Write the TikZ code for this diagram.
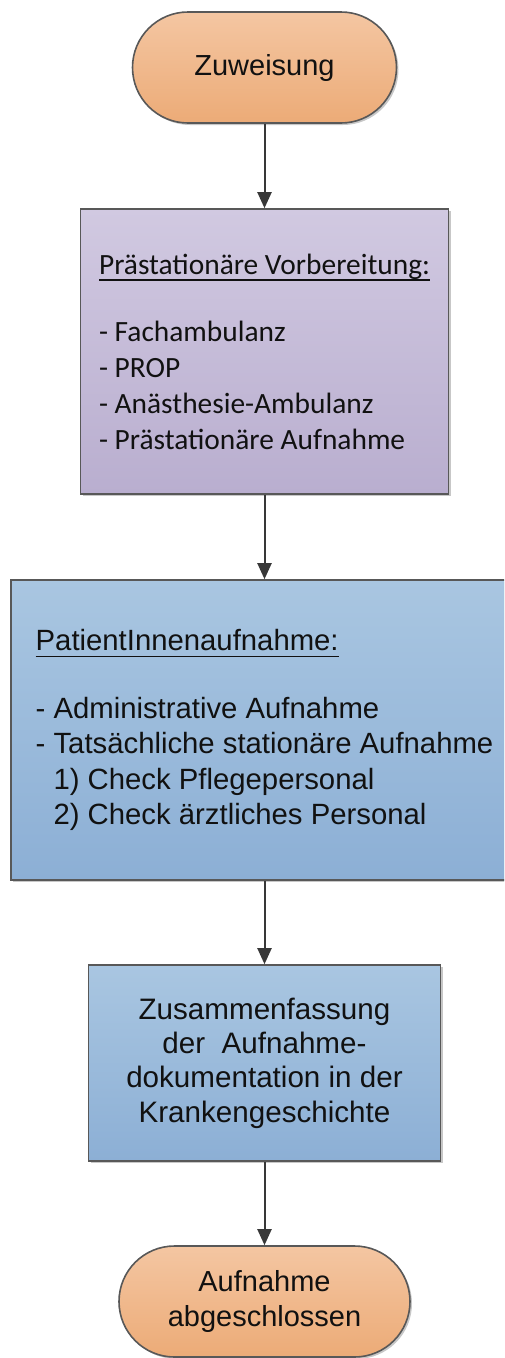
\documentclass[tikz,border=0pt]{standalone}
\usepackage{fontspec}
\setmainfont{Liberation Sans}
\newfontfamily\calibri{Carlito}
\usepackage{tikz}
\usetikzlibrary{arrows.meta,shadows,positioning}
\definecolor{orangetop}{HTML}{F4C6A2}
\definecolor{orangebot}{HTML}{ECAB77}
\definecolor{lilatop}{HTML}{D1C9E1}
\definecolor{lilabot}{HTML}{B9AECF}
\definecolor{blautop}{HTML}{A9C6E1}
\definecolor{blaubot}{HTML}{8CAFD5}
\definecolor{rand}{HTML}{585858}
\definecolor{pfeilgrau}{HTML}{383838}
\definecolor{schrift}{HTML}{111111}
\newcommand\unterstrich[1]{\leavevmode\setbox0\hbox{#1}\rlap{\rule[-6.5pt]{\wd0}{1.4pt}}\box0}

\begin{document}
\begin{tikzpicture}[x=1pt,y=-1pt,
  kasten/.style={draw=rand,line width=1.6pt,inner sep=0pt,text=schrift,
    drop shadow={shadow xshift=2pt,shadow yshift=-2pt,opacity=.22,fill=black}},
  endkasten/.style={kasten,rounded corners=55.5pt,minimum height=111pt,
    top color=orangetop,bottom color=orangebot,align=center,
    font=\fontsize{29}{35}\selectfont},
  lilakasten/.style={kasten,top color=lilatop,bottom color=lilabot,align=left,
    font=\calibri\fontsize{29.4}{36}\selectfont},
  blaukasten/.style={kasten,top color=blautop,bottom color=blaubot},
  pfeil/.style={-{Triangle[length=16pt,width=14pt]},line width=2pt,pfeilgrau}]
\clip (0,0) rectangle (504,1358);

\node[endkasten,minimum width=264pt] (zuweisung) at (264.5,67.5) {Zuweisung};

\node[lilakasten,minimum width=368pt,minimum height=285pt] (vorbereitung) at (264.5,351.5)
  {\unterstrich{Prästationäre Vorbereitung:}\\[31pt]
   - Fachambulanz\\
   - PROP\\
   - Anästhesie-Ambulanz\\
   - Prästationäre Aufnahme};

\node[blaukasten,minimum width=507pt,minimum height=300pt,align=left,
  font=\fontsize{29.3}{35.5}\selectfont] (aufnahme) at (264.5,730)
  {\unterstrich{PatientInnenaufnahme:}\\[32pt]
   - Administrative Aufnahme\\
   - Tatsächliche stationäre Aufnahme\\
   \phantom{- }1) Check Pflegepersonal\\
   \phantom{- }2) Check ärztliches Personal};

\node[blaukasten,minimum width=352pt,minimum height=196pt,align=center,
  font=\fontsize{29.6}{34.3}\selectfont] (zusammenfassung) at (264.5,1063)
  {Zusammenfassung\\
   der~ Aufnahme-\\
   dokumentation in der\\
   Krankengeschichte};

\node[endkasten,minimum width=291pt] (abschluss) at (264.5,1301.5)
  {Aufnahme\\abgeschlossen};

\draw[pfeil] (zuweisung) -- (vorbereitung);
\draw[pfeil] (vorbereitung) -- (aufnahme);
\draw[pfeil] (aufnahme) -- (zusammenfassung);
\draw[pfeil] (zusammenfassung) -- (abschluss);
\end{tikzpicture}
\end{document}
